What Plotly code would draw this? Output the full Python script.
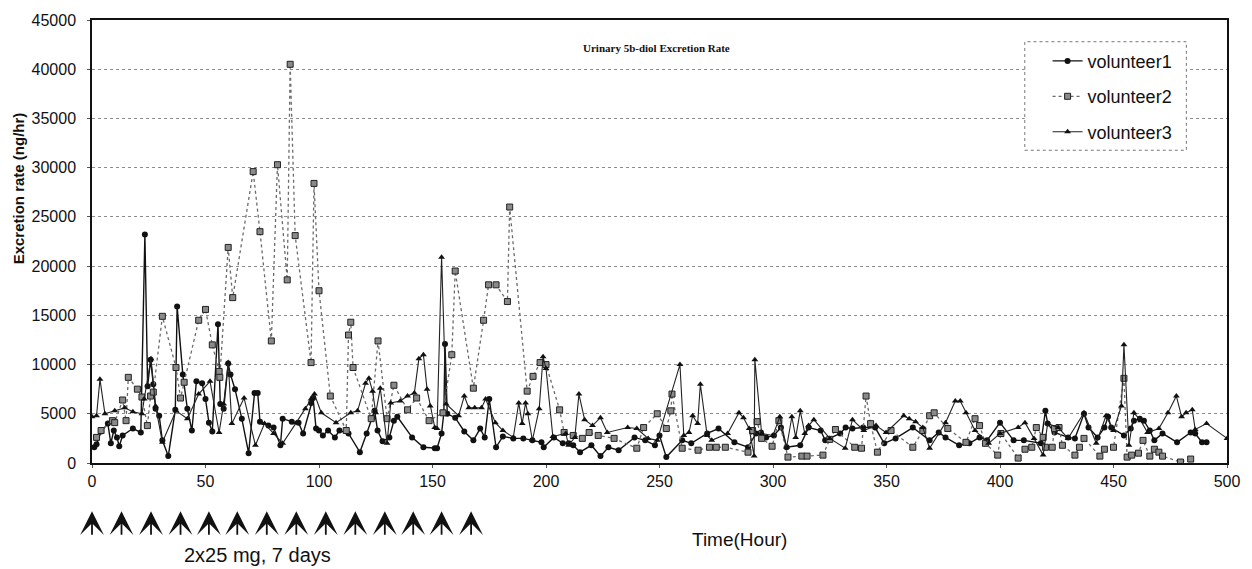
import plotly.graph_objects as go

# ---------------- data ----------------
v1_hours = [1, 2, 4, 7, 8.3, 9.6, 11, 12, 13.5, 18, 21.5, 23.3, 24.5, 25.8, 27, 28, 29.6, 31, 33.6, 36.7,
            37.5, 40, 42, 44, 46, 48.5, 50, 51.5, 53, 55.5, 56.5, 58, 60, 61, 63, 66, 69, 71.6, 73, 74,
            77.7, 80, 83, 84, 88, 91, 93, 96.5, 97.4, 98.7, 100, 101.7, 104, 107, 109, 113, 118, 121, 123.6, 124.5,
            125.8, 128, 131, 133, 134.5, 141, 146, 151, 152, 154, 155, 155.5, 156.5, 160, 164, 168, 171, 173, 175, 178,
            181, 185.6, 190, 194, 198, 199, 203.5, 207.4, 210, 212, 215, 220, 224, 227.5, 232, 239, 243.7, 248, 250, 253,
            260, 264, 271, 276, 283, 289, 292.5, 294.7, 297, 300.4, 303.5, 306, 312, 315.7, 321, 323, 329.6, 332, 335, 339.7,
            345, 349, 354, 361.6, 369, 373, 376, 382, 386.5, 391, 394.3, 400, 406, 410.5, 418, 420, 421, 424, 430, 433,
            437, 439, 443, 446, 447.6, 449, 454.6, 457.6, 459, 461.6, 463.4, 466, 468, 471.6, 478, 484, 486, 489, 491]
v1_rates = [1600, 1900, 3200, 4000, 2000, 3300, 2600, 1700, 2800, 3500, 3100, 23200, 7800, 10500, 8000, 5500, 4800, 2300, 700, 5400,
            15900, 9000, 5500, 3300, 8300, 8100, 6500, 4100, 3200, 14100, 6000, 5500, 10100, 9000, 7500, 4500, 1000, 7100, 7100, 4200,
            3800, 3600, 1800, 4500, 4200, 4100, 3000, 6100, 6600, 3500, 3300, 2800, 3300, 2600, 3300, 3000, 1100, 3000, 4600, 5300,
            3300, 2200, 2600, 4300, 4700, 2600, 1600, 1500, 1500, 3000, 5100, 12100, 5000, 4600, 3200, 2300, 3500, 2600, 6500, 1600,
            2700, 2500, 2500, 2300, 2100, 1600, 2600, 2000, 2000, 1800, 1100, 1800, 700, 1600, 1300, 2600, 2300, 1800, 2800, 600,
            2300, 2000, 3000, 3500, 2100, 1600, 3000, 3100, 2600, 2800, 3600, 1600, 1800, 3600, 3300, 2300, 3000, 3600, 3500, 3600,
            3600, 2000, 2500, 3600, 2300, 3100, 2600, 1800, 2000, 2600, 2300, 4100, 2300, 2300, 2000, 5300, 4000, 3100, 2600, 2500,
            5000, 3600, 2600, 3600, 4700, 3600, 2800, 3500, 4300, 4500, 4300, 3300, 2300, 3000, 2100, 3100, 3000, 2100, 2100]

v2_hours = [2, 4, 9, 10, 13.5, 15, 16, 20, 22, 24.4, 25.8, 27, 31, 37, 39, 40.6, 47, 50, 53, 56,
            56.3, 60, 62, 71, 74, 79, 81.7, 86, 87.3, 89.5, 96.5, 97.8, 100, 105, 112, 113, 114, 115, 123, 126,
            130, 133, 139, 143, 148.5, 154.6, 158.5, 160, 168, 172.5, 174.7, 178, 183, 184, 191.7, 194.3, 197.4, 200, 206, 208,
            212, 216, 219, 223, 230, 240, 243, 249, 253, 255, 255.5, 260, 267, 272, 275, 279, 289, 291, 293, 295,
            299.6, 302.6, 306.6, 312.7, 315, 322, 325, 327.5, 336, 339, 341, 343, 346, 352, 361.6, 366, 369, 371, 377, 385,
            389, 391, 393.6, 399, 400.4, 408, 411, 414, 416, 419, 420, 423, 424, 426, 427.5, 433, 435, 437, 444, 446,
            450, 454.6, 456, 458, 461, 463, 466, 468, 470, 471.6, 479.5, 484]
v2_rates = [2600, 3300, 4300, 4100, 6400, 4300, 8700, 7500, 6700, 3800, 6800, 7200, 14900, 9700, 6600, 8200, 14500, 15600, 12000, 9300,
            8700, 21900, 16800, 29600, 23500, 12400, 30300, 18600, 40500, 23100, 10200, 28400, 17500, 6800, 3300, 13000, 14300, 9700, 4500, 12400,
            4500, 7900, 5400, 6600, 4300, 5100, 11000, 19500, 7600, 14500, 18100, 18100, 16400, 26000, 7300, 8800, 10200, 10000, 5400, 3100,
            2800, 2500, 3100, 2800, 2500, 1500, 3600, 5000, 3500, 5300, 7000, 1500, 1300, 1600, 1600, 1600, 1100, 3300, 4200, 2500,
            1700, 4300, 600, 700, 700, 800, 2400, 3400, 1600, 1500, 6800, 4000, 1100, 3300, 1600, 3300, 4800, 5100, 3500, 2100,
            4500, 3800, 2000, 800, 3000, 500, 1400, 1600, 3600, 2600, 1600, 1600, 3500, 3600, 1800, 800, 1600, 2500, 700, 1400,
            1600, 8600, 600, 800, 1000, 2300, 700, 1400, 1100, 700, 100, 400]

v3_hours = [0, 2, 3.5, 5.7, 10, 14.4, 18, 22, 23, 26, 28, 31, 37, 42, 47, 52, 56, 58, 60, 61.6,
            67, 72, 76, 80, 84, 90, 94, 96.5, 98, 101, 107.5, 114, 117, 120.5, 122, 123.6, 125, 127, 130, 131.6,
            135.8, 139, 142, 144, 146, 147.6, 149, 151, 152, 154, 156, 161.5, 164, 166, 168.6, 171.6, 173.4, 177.7, 181, 185.6,
            188, 189.5, 191, 192, 194, 197, 198.7, 200, 203, 208.7, 210, 212.7, 214.5, 217, 220.5, 224, 227, 236, 240, 245,
            249, 259, 260.7, 263, 264.6, 266.8, 268, 271, 273, 280, 285, 287, 289.5, 291.7, 292, 295, 300, 303, 306, 308.3,
            310, 312, 314, 315.7, 318, 325, 331.8, 335, 340, 345.4, 349.8, 357.6, 360, 362.8, 366, 369, 376, 380.3, 382.5, 385,
            389, 395, 400, 408, 411, 415, 419, 421, 425.6, 430, 437, 442.4, 446.7, 450, 453.5, 454.6, 456.8, 459, 462, 465,
            470, 474, 477.7, 480, 482, 484.7, 486, 491, 500]
v3_rates = [4700, 4800, 8500, 5000, 5300, 5600, 5200, 5000, 6500, 10600, 5800, 2100, 5300, 4500, 7000, 8300, 3100, 6000, 10200, 4000,
            6600, 1800, 4000, 3000, 2000, 4100, 5500, 6500, 7000, 5100, 4100, 5100, 5300, 8100, 8600, 7300, 5100, 7600, 2000, 6100,
            6300, 6800, 7100, 10600, 11000, 7500, 5800, 3600, 3500, 20900, 6000, 4800, 6800, 5600, 5600, 5600, 6500, 4100, 3300, 2600,
            6100, 4000, 6100, 5000, 2300, 5500, 10800, 9600, 2700, 3000, 1800, 2600, 7000, 4400, 3800, 4600, 3100, 3600, 3500, 2500,
            2300, 10000, 2800, 3100, 4800, 4000, 8000, 2800, 2300, 3000, 5100, 4600, 3500, 700, 10500, 3000, 2800, 4700, 1600, 4700,
            2600, 5300, 3000, 3800, 4400, 2500, 1500, 4400, 3300, 3800, 3100, 4800, 4500, 4200, 3600, 1500, 4100, 6300, 6300, 5100,
            3300, 2000, 3000, 3600, 4100, 2500, 800, 4000, 3600, 2500, 5100, 2000, 4800, 3300, 5800, 12000, 1800, 5100, 4300, 3100,
            3500, 5100, 6800, 4700, 5100, 5400, 3400, 4000, 2500]

dose_hours = [0, 13, 26, 39, 51.5, 64, 77, 90, 103, 116, 129, 141.5, 154, 167]

y_ticks = [0, 5000, 10000, 15000, 20000, 25000, 30000, 35000, 40000, 45000]
x_ticks = [0, 50, 100, 150, 200, 250, 300, 350, 400, 450, 500]

# ---------------- figure ----------------
fig = go.Figure()
fig.add_trace(go.Scatter(
    x=v1_hours, y=v1_rates, name="volunteer1", mode="lines+markers",
    line=dict(color="#111111", width=1.4),
    marker=dict(symbol="circle", size=6, color="#111111"),
    legendgroup="g1"))
fig.add_trace(go.Scatter(
    x=v2_hours, y=v2_rates, name="volunteer2", mode="lines+markers",
    line=dict(color="#6a6a6a", width=1.3, dash="dot"),
    marker=dict(symbol="square", size=6, color="#8a8a8a", line=dict(color="#222222", width=1)),
    legendgroup="g2"))
fig.add_trace(go.Scatter(
    x=v3_hours, y=v3_rates, name="volunteer3", mode="lines+markers",
    line=dict(color="#222222", width=1.1),
    marker=dict(symbol="triangle-up", size=6, color="#111111"),
    legendgroup="g3"))

L, R, T, B = 92, 15, 14, 106
W, H = 1252, 569
pw = W - L - R
ph = H - T - B

def px_x(p):
    return (p - L) / pw

def px_y(p):
    return (H - B - p) / ph

fig.update_layout(
    width=W, height=H,
    margin=dict(l=L, r=R, t=T, b=B, pad=0),
    paper_bgcolor="white", plot_bgcolor="white",
    font=dict(family="Liberation Sans, Arial, sans-serif", color="#111111", size=15),
    showlegend=True,
    legend=dict(x=px_x(1056), y=px_y(37), xanchor="left", yanchor="top",
                bgcolor="rgba(255,255,255,0)", borderwidth=0,
                font=dict(size=18, color="#111111"),
                traceorder="grouped", tracegroupgap=9, itemwidth=30),
)

fig.update_xaxes(range=[0, 500], tickvals=x_ticks, ticktext=[str(t) for t in x_ticks],
                 showgrid=False, zeroline=False, showline=True, linecolor="#111111", linewidth=1.5,
                 mirror=True, ticks="outside", ticklen=3, tickcolor="#555555",
                 tickfont=dict(size=16), fixedrange=True)
fig.update_yaxes(range=[0, 45000], tickvals=y_ticks, ticktext=[str(t) for t in y_ticks],
                 showgrid=True, gridcolor="#8c8c8c", gridwidth=1, griddash="dot",
                 zeroline=False, showline=True, linecolor="#111111", linewidth=1.5,
                 mirror=True, ticks="outside", ticklen=3, tickcolor="#555555",
                 ticklabelstandoff=8,
                 tickfont=dict(size=16), fixedrange=True)

# legend box (dotted)
fig.add_shape(type="rect", xref="paper", yref="paper",
              x0=px_x(1033), x1=px_x(1196), y0=px_y(146), y1=px_y(36),
              line=dict(color="#777777", width=1, dash="dot"), fillcolor="white", layer="above")

# title
fig.add_annotation(text="<b>Urinary 5b-diol Excretion Rate</b>", xref="paper", yref="paper",
                   x=px_x(661), y=px_y(42), showarrow=False, xanchor="center", yanchor="middle",
                   font=dict(family="Liberation Serif, Times New Roman, serif", size=11, color="#111111"))

# axis titles
fig.add_annotation(text="<b>Excretion rate (ng/hr)</b>", xref="paper", yref="paper",
                   x=px_x(18), y=px_y(185), showarrow=False, textangle=-90,
                   xanchor="center", yanchor="middle",
                   font=dict(size=15, color="#111111"))
fig.add_annotation(text="Time(Hour)", xref="paper", yref="paper",
                   x=px_x(745), y=px_y(541), showarrow=False, xanchor="center", yanchor="middle",
                   font=dict(size=19, color="#111111"))
fig.add_annotation(text="2x25 mg, 7 days", xref="paper", yref="paper",
                   x=px_x(259), y=px_y(556), showarrow=False, xanchor="center", yanchor="middle",
                   font=dict(size=20, color="#111111"))

# dosing arrows
for h in dose_hours:
    fig.add_annotation(x=h, xref="x", y=px_y(512), yref="paper", text="", showarrow=True,
                       ax=0, ay=25, arrowhead=3, arrowsize=2.2, arrowwidth=1.8, arrowcolor="#111111",
                       standoff=0)

fig.write_html("out.html")
